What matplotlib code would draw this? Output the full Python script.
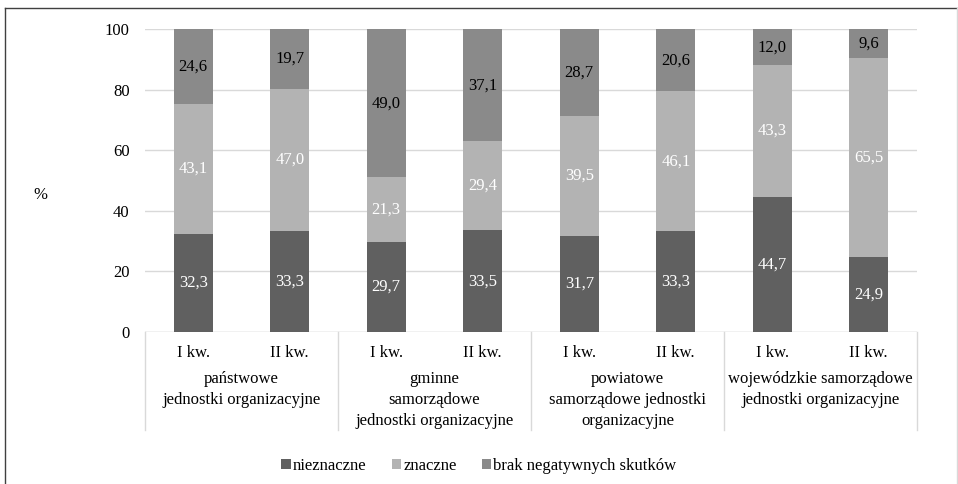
import matplotlib
matplotlib.use("Agg")
import matplotlib.pyplot as plt
from matplotlib.patches import Patch
from matplotlib.lines import Line2D
import numpy as np

plt.rcParams['font.family'] = ['Liberation Serif', 'DejaVu Serif']

quarters = ["I kw.", "II kw."] * 4
groups = ["państwowe\njednostki organizacyjne",
          "gminne\nsamorządowe\njednostki organizacyjne",
          "powiatowe\nsamorządowe jednostki\norganizacyjne",
          "wojewódzkie samorządowe\njednostki organizacyjne"]
nieznaczne = [32.3, 33.3, 29.7, 33.5, 31.7, 33.3, 44.7, 24.9]
znaczne = [43.1, 47.0, 21.3, 29.4, 39.5, 46.1, 43.3, 65.5]
brak = [24.6, 19.7, 49.0, 37.1, 28.7, 20.6, 12.0, 9.6]
series_names = ["nieznaczne", "znaczne", "brak negatywnych skutków"]
colors = ["#606060", "#b3b3b3", "#8a8a8a"]
label_colors = ["white", "white", "black"]

FS = 12
W, H = 958, 484
fig = plt.figure(figsize=(W / 100, H / 100), dpi=100)
left, right, top, bottom = 145, 917, 29, 332
ax = fig.add_axes([left / W, 1 - bottom / H, (right - left) / W, (bottom - top) / H])

x = np.arange(len(quarters))
bw = 0.4
base = np.zeros(len(x))
for vals, c, lc in zip([nieznaczne, znaczne, brak], colors, label_colors):
    vals = np.array(vals)
    ax.bar(x, vals, bw, bottom=base, color=c, zorder=3)
    for xi, b, v in zip(x, base, vals):
        ax.text(xi, b + v / 2, f"{v:.1f}".replace(".", ","), ha="center", va="center",
                color=lc, fontsize=FS, zorder=4)
    base = base + vals

ax.set_xlim(-0.5, len(x) - 0.5)
ax.set_ylim(0, 100)
ax.set_yticks(range(0, 101, 20))
ax.tick_params(axis='y', length=0, labelsize=FS, pad=11)
ax.set_xticks([])
ax.grid(axis='y', color="#d9d9d9", linewidth=1, zorder=0)
for s in ax.spines.values():
    s.set_visible(False)
ax.axhline(0, color="#d9d9d9", linewidth=1, zorder=2)

trans = ax.get_xaxis_transform()
axis_h = bottom - top
y_low = -(430 - bottom) / axis_h
for xv in [-0.5, 1.5, 3.5, 5.5, 7.5]:
    ax.add_line(Line2D([xv, xv], [0, y_low], transform=trans, color="#d9d9d9",
                       linewidth=1, clip_on=False))
for xi, q in zip(x, quarters):
    ax.text(xi, -(353 - bottom) / axis_h, q, transform=trans, ha="center", va="center",
            fontsize=FS)
for gi, g in enumerate(groups):
    ax.text(2 * gi + 0.5, -(371 - bottom) / axis_h, g, transform=trans, ha="center",
            va="top", fontsize=FS, linespacing=1.42)

fig.text(40 / W, 1 - 195 / H, "%", fontsize=FS, ha="center", va="center")

handles = [Patch(facecolor=c, edgecolor="none") for c in colors]
fig.legend(handles, series_names, loc="center", bbox_to_anchor=(0.5, 1 - 466 / H),
           ncol=3, frameon=False, fontsize=FS, handlelength=0.55, handleheight=0.55,
           handletextpad=0.15, columnspacing=1.5)

# outer frame
fig.add_artist(Line2D([5 / W, 957 / W], [1 - 8 / H, 1 - 8 / H], transform=fig.transFigure,
                      color="#404040", linewidth=1))
fig.add_artist(Line2D([5 / W, 5 / W], [1 - 8 / H, 0], transform=fig.transFigure,
                      color="#404040", linewidth=1))
fig.add_artist(Line2D([957 / W, 957 / W], [1 - 8 / H, 0], transform=fig.transFigure,
                      color="#d9d9d9", linewidth=1))

fig.savefig("out.png", dpi=100)
